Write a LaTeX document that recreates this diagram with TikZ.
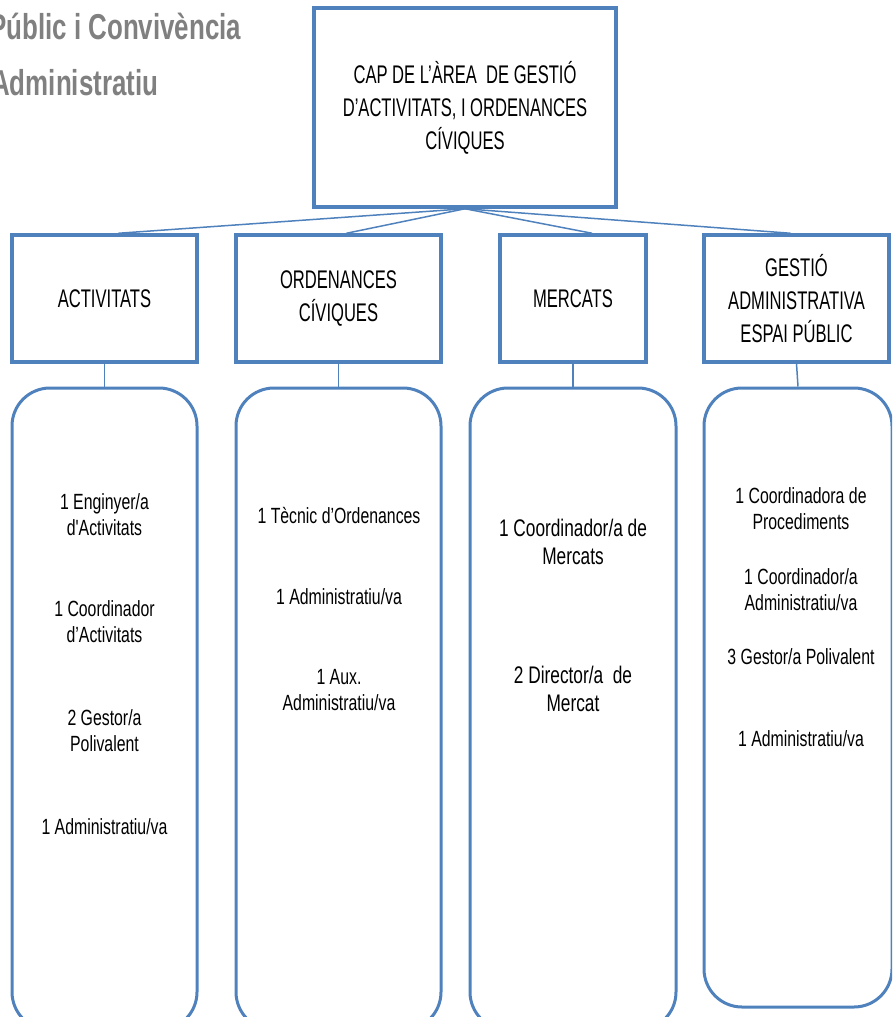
\documentclass[tikz,border=0pt]{standalone}
\usepackage{fontspec}
\usepackage{tikz}
\newfontfamily\orgfont{Liberation Sans}[FakeStretch=0.72]
\newfontfamily\headfont{Liberation Sans}[FakeStretch=0.65]
\definecolor{boxblue}{RGB}{79,129,189}
\definecolor{titlegray}{RGB}{128,128,128}
\tikzset{
  headbox/.style={draw=boxblue, line width=3.5pt, align=center, inner sep=2pt,
    font=\headfont\fontsize{25.5}{33}\selectfont},
  listbox/.style={draw=boxblue, line width=3pt, rounded corners=38pt},
  staff/.style={align=center, inner sep=1pt, font=\orgfont\fontsize{22}{26}\selectfont},
  bigstaff/.style={staff, font=\orgfont\fontsize{24}{28}\selectfont},
  link/.style={draw=boxblue, line width=1.5pt},
  title/.style={anchor=base west, text=titlegray, inner sep=0pt,
    font=\orgfont\bfseries\fontsize{36}{40}\selectfont}
}
\begin{document}
\begin{tikzpicture}[x=1pt,y=-1pt]
	\useasboundingbox (0,0) rectangle (892,1017);
	\clip (0,0) rectangle (892,1017);
	\node[title] (tit1) at (-11,39) {Públic i Convivència};
	\node[title] (tit2) at (-9,95) {Administratiu};
	\node[headbox, minimum width=302pt, minimum height=199pt] (cap) at (465,107.5)
	  {CAP DE L’ÀREA \ DE GESTIÓ\\D’ACTIVITATS, I ORDENANCES\\CÍVIQUES};
	\node[headbox, minimum width=185pt, minimum height=127pt] (act) at (104.5,298.5) {ACTIVITATS};
	\node[headbox, minimum width=205pt, minimum height=127pt] (ord) at (338.5,298.5) {ORDENANCES\\CÍVIQUES};
	\node[headbox, minimum width=146pt, minimum height=127pt] (mer) at (573,298.5) {MERCATS};
	\node[headbox, minimum width=185pt, minimum height=127pt] (gest) at (796.5,298.5) {GESTIÓ\\ADMINISTRATIVA\\ESPAI PÚBLIC};
	\node[listbox, minimum width=185pt, minimum height=642pt] (actl) at (104.5,709) {};
	\node[listbox, minimum width=205pt, minimum height=642pt] (ordl) at (338.5,709) {};
	\node[listbox, minimum width=206pt, minimum height=642pt] (merl) at (573,709) {};
	\node[listbox, minimum width=188pt, minimum height=619pt] (gestl) at (798,697.5) {};
	\foreach \h/\l/\dx in {act/actl/14, ord/ordl/8, mer/merl/19, gest/gestl/-6} {
	  \draw[link] (cap.south) -- ([xshift=\dx pt]\h.north);
	  \draw[link] (\h.south) -- (\l.north);
	}
	\node[staff] (act1) at (104.5,515) {1 Enginyer/a\\d'Activitats};
	\node[staff] (act2) at (104.5,622) {1 Coordinador\\d’Activitats};
	\node[staff] (act3) at (104.5,731) {2 Gestor/a\\Polivalent};
	\node[staff] (act4) at (104.5,827) {1 Administratiu/va};
	\node[staff] (ord1) at (339,516) {1 Tècnic d’Ordenances};
	\node[staff] (ord2) at (339,597) {1 Administratiu/va};
	\node[staff] (ord3) at (339,690) {1 Aux.\\Administratiu/va};
	\node[bigstaff] (mer1) at (573,542) {1 Coordinador/a de\\Mercats};
	\node[bigstaff] (mer2) at (573,689) {2 Director/a \ de\\Mercat};
	\node[staff] (gest1) at (801,509) {1 Coordinadora de\\Procediments};
	\node[staff] (gest2) at (801,590) {1 Coordinador/a\\Administratiu/va};
	\node[staff] (gest3) at (801,657) {3 Gestor/a Polivalent};
	\node[staff] (gest4) at (801,739) {1 Administratiu/va};
\end{tikzpicture}
\end{document}
